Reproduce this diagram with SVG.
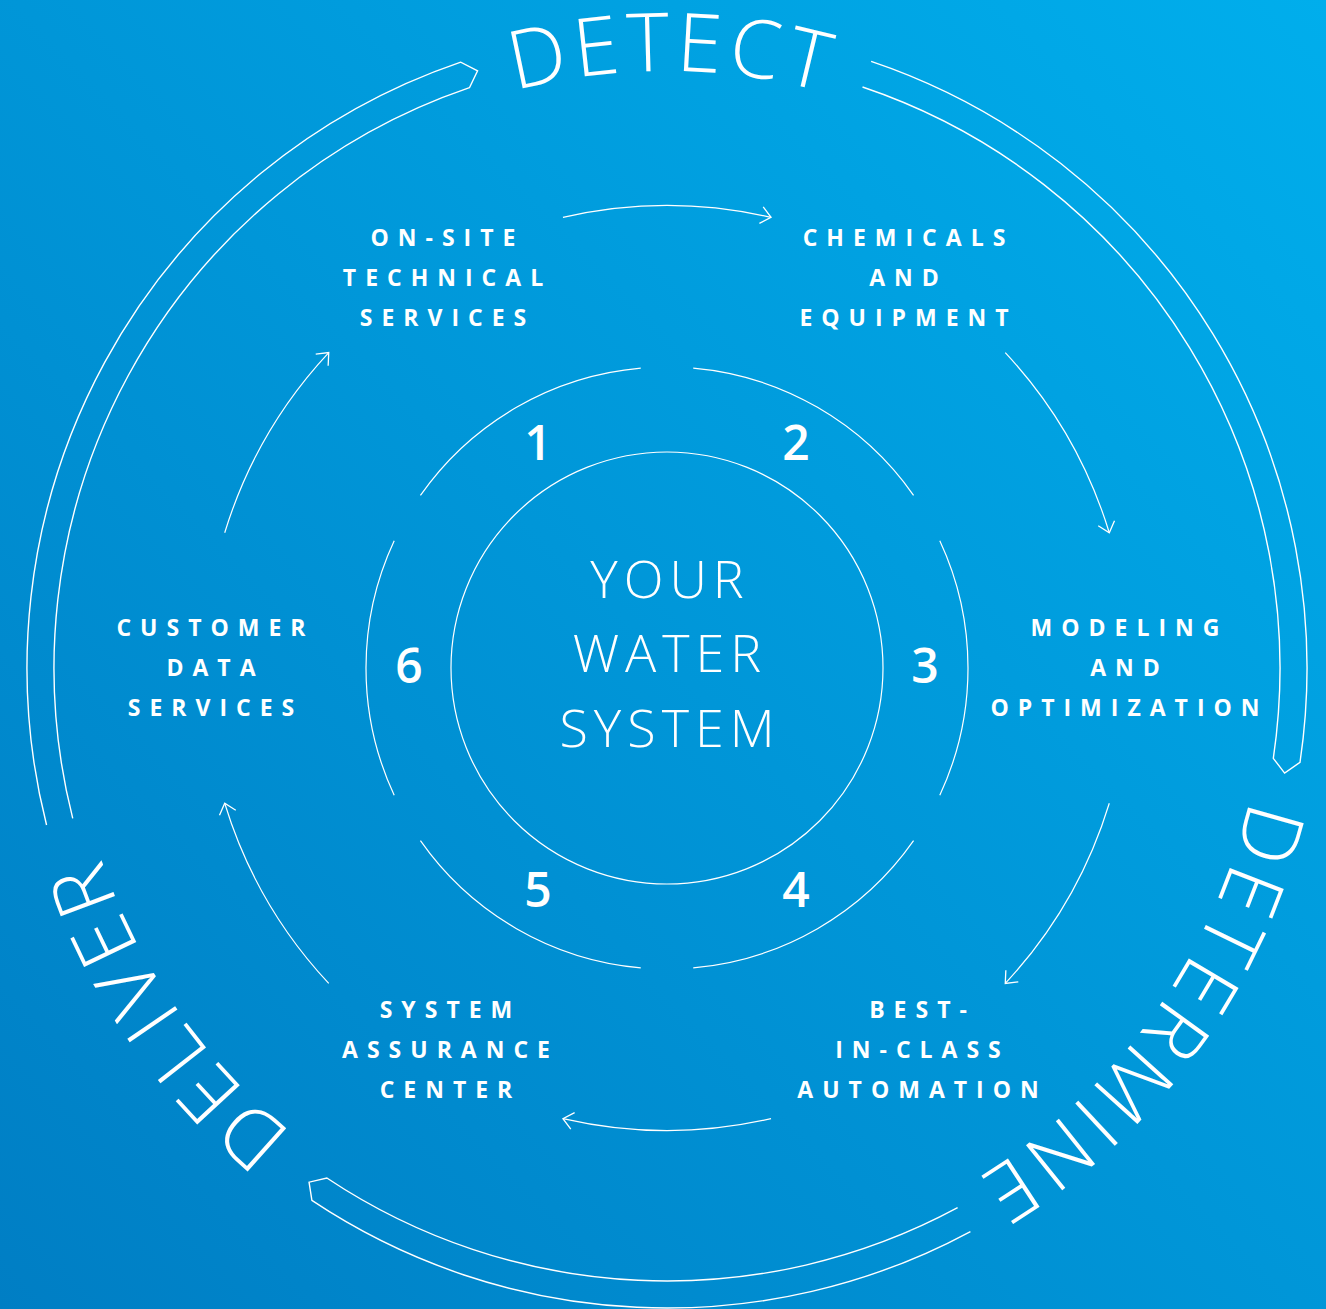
<svg xmlns="http://www.w3.org/2000/svg" width="1326" height="1309" viewBox="0 0 1326 1309">
<defs>
<linearGradient id="bg" x1="1326" y1="0" x2="0" y2="1309" gradientUnits="userSpaceOnUse">
<stop offset="0" stop-color="#00AEEC"/>
<stop offset="1" stop-color="#007EC4"/>
</linearGradient>
<marker id="arr" viewBox="-12 -10 14 20" markerWidth="14" markerHeight="20" refX="0" refY="0" orient="auto" markerUnits="userSpaceOnUse">
<path d="M-10,-8.5 L0,0 L-10,8.5" fill="none" stroke="#fff" stroke-width="1.3"/>
</marker>
<path id="p-detect" d="M152.61 365 A597 597 0 0 1 1186.6 374.03"/>
<path id="p-determine" d="M1212.39 425.18 A597 597 0 0 1 604.6 1261.73"/>
<path id="p-deliver" d="M714.88 1263.08 A597 597 0 0 1 127.71 411.92"/>
<style>
.ln{fill:none;stroke:#fff;stroke-width:1.2}
.band{fill:none;stroke:#fff;stroke-width:1.4;stroke-linejoin:miter}
.phase{font-family:"Open Sans","Liberation Sans",sans-serif;font-weight:300;font-size:81px;fill:#fff;letter-spacing:6px}
.lbl{font-family:"Open Sans","Liberation Sans",sans-serif;font-weight:700;font-size:23px;fill:#fff;letter-spacing:9px;text-anchor:middle}
.num{font-family:"Open Sans","Liberation Sans",sans-serif;font-weight:600;font-size:48px;fill:#fff;text-anchor:middle}
.ctr{font-family:"Open Sans","Liberation Sans",sans-serif;font-weight:300;font-size:52px;fill:#fff;letter-spacing:6px;text-anchor:middle}
</style>
</defs>
<rect width="1326" height="1309" fill="url(#bg)"/>

<g id="phase-detect">
<path class="band" d="M46.55 825 A640 640 0 0 1 460.75 62.14 L477.57 70.83 L469.45 87.7 A613 613 0 0 0 72.73 818.4"/>
<text class="phase"><textPath href="#p-detect" startOffset="50%" text-anchor="middle">DETECT</textPath></text>
</g>
<g id="phase-determine">
<path class="band" d="M871.13 61.43 A640 640 0 0 1 1300.02 762.27 L1284.62 773.13 L1273.31 758.3 A613 613 0 0 0 862.52 87.02"/>
<text class="phase"><textPath href="#p-determine" startOffset="50%" text-anchor="middle">DETERMINE</textPath></text>
</g>
<g id="phase-deliver">
<path class="band" d="M970.42 1231.51 A640 640 0 0 1 311.9 1200.45 L309.06 1182.17 L326.88 1177.99 A613 613 0 0 0 957.62 1207.73"/>
<text class="phase"><textPath href="#p-deliver" startOffset="50%" text-anchor="middle">DELIVER</textPath></text>
</g>

<g id="center-your-water-system">
<circle class="ln" cx="667" cy="668" r="216"/>
<text class="ctr" x="670" y="598">YOUR</text>
<text class="ctr" x="670" y="672">WATER</text>
<text class="ctr" x="670" y="747">SYSTEM</text>
</g>

<g id="step-1">
<path class="ln" d="M420.44 495.35 A301 301 0 0 1 640.77 368.15"/>
<text class="num" x="538" y="459.5">1</text>
<text class="lbl" x="447.5" y="246">ON-SITE</text>
<text class="lbl" x="447.5" y="286">TECHNICAL</text>
<text class="lbl" x="447.5" y="326">SERVICES</text>
</g>
<g id="step-2">
<path class="ln" d="M693.23 368.15 A301 301 0 0 1 913.56 495.35"/>
<text class="num" x="796" y="459.5">2</text>
<text class="lbl" x="908.5" y="246">CHEMICALS</text>
<text class="lbl" x="908.5" y="286">AND</text>
<text class="lbl" x="908.5" y="326">EQUIPMENT</text>
</g>
<g id="step-3">
<path class="ln" d="M939.8 540.79 A301 301 0 0 1 939.8 795.21"/>
<text class="num" x="925" y="683">3</text>
<text class="lbl" x="1129.5" y="636">MODELING</text>
<text class="lbl" x="1129.5" y="676">AND</text>
<text class="lbl" x="1129.5" y="716">OPTIMIZATION</text>
</g>
<g id="step-4">
<path class="ln" d="M913.56 840.65 A301 301 0 0 1 693.23 967.85"/>
<text class="num" x="796" y="906.5">4</text>
<text class="lbl" x="922.5" y="1018">BEST-</text>
<text class="lbl" x="922.5" y="1058">IN-CLASS</text>
<text class="lbl" x="922.5" y="1098">AUTOMATION</text>
</g>
<g id="step-5">
<path class="ln" d="M640.77 967.85 A301 301 0 0 1 420.44 840.65"/>
<text class="num" x="538" y="906.5">5</text>
<text class="lbl" x="450.5" y="1018">SYSTEM</text>
<text class="lbl" x="450.5" y="1058">ASSURANCE</text>
<text class="lbl" x="450.5" y="1098">CENTER</text>
</g>
<g id="step-6">
<path class="ln" d="M394.2 795.21 A301 301 0 0 1 394.2 540.79"/>
<text class="num" x="409" y="683">6</text>
<text class="lbl" x="215.5" y="636">CUSTOMER</text>
<text class="lbl" x="215.5" y="676">DATA</text>
<text class="lbl" x="215.5" y="716">SERVICES</text>
</g>

<g id="connectors">
<path class="ln" marker-end="url(#arr)" d="M562.96 217.35 A462.5 462.5 0 0 1 771.04 217.35"/>
<path class="ln" marker-end="url(#arr)" d="M1005.25 352.57 A462.5 462.5 0 0 1 1109.29 532.78"/>
<path class="ln" marker-end="url(#arr)" d="M1109.29 803.22 A462.5 462.5 0 0 1 1005.25 983.43"/>
<path class="ln" marker-end="url(#arr)" d="M771.04 1118.65 A462.5 462.5 0 0 1 562.96 1118.65"/>
<path class="ln" marker-end="url(#arr)" d="M328.75 983.43 A462.5 462.5 0 0 1 224.71 803.22"/>
<path class="ln" marker-end="url(#arr)" d="M224.71 532.78 A462.5 462.5 0 0 1 328.75 352.57"/>
</g>
</svg>
